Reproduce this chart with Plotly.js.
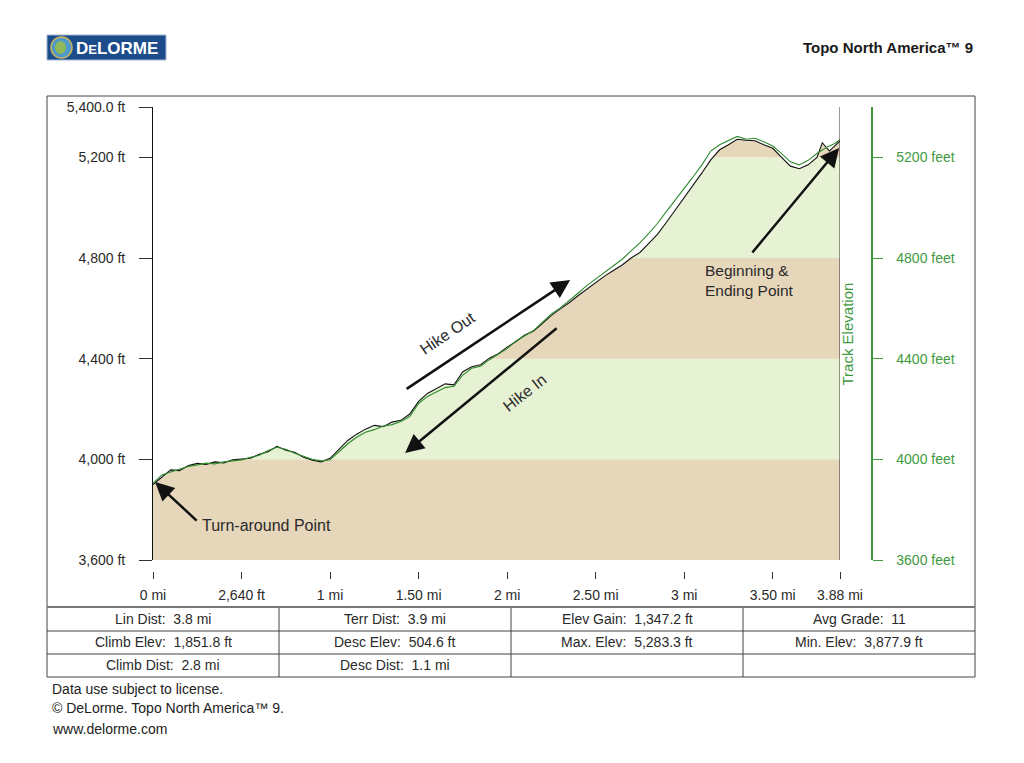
<!DOCTYPE html>
<html>
<head>
<meta charset="utf-8">
<script src="https://cdn.plot.ly/plotly-3.0.1.min.js"></script>
<style>
  html, body { margin: 0; padding: 0; background: #ffffff; }
  #chart { width: 1024px; height: 763px; }
</style>
</head>
<body>
<div id="chart"></div>
<script>
// ---------------- DATA ----------------
// Track 1 (black) : distance (mi) and elevation (ft)
const blackDist = [0.00,0.05,0.10,0.15,0.20,0.25,0.30,0.35,0.40,0.45,0.50,0.55,0.60,0.65,0.70,0.75,0.80,0.85,0.90,0.95,
  1.00,1.05,1.10,1.15,1.20,1.25,1.30,1.35,1.40,1.45,1.50,1.55,1.60,1.65,1.70,1.75,1.80,1.85,1.90,1.95,
  2.00,2.05,2.10,2.15,2.20,2.25,2.30,2.35,2.40,2.45,2.50,2.55,2.60,2.65,2.70,2.75,2.80,2.85,2.90,2.95,
  3.00,3.05,3.10,3.15,3.20,3.25,3.30,3.35,3.40,3.45,3.50,3.55,3.60,3.65,3.70,3.75,3.78,3.82,3.85,3.88];
const blackElev = [3900,3930,3958,3955,3975,3984,3980,3990,3986,3998,4002,4004,4020,4030,4052,4036,4028,4008,3996,3990,
  4004,4040,4075,4100,4120,4135,4130,4148,4155,4180,4230,4262,4280,4300,4296,4348,4368,4376,4402,4420,
  4446,4468,4494,4510,4540,4572,4598,4622,4650,4676,4700,4728,4750,4772,4800,4822,4858,4895,4942,4990,
  5040,5090,5138,5190,5230,5250,5272,5268,5266,5250,5236,5200,5165,5155,5170,5200,5258,5225,5245,5265];

// Track 2 (green)
const greenDist = [0.00,0.05,0.10,0.15,0.20,0.25,0.30,0.35,0.40,0.45,0.50,0.55,0.60,0.65,0.70,0.75,0.80,0.85,0.90,0.95,
  1.00,1.05,1.10,1.15,1.20,1.25,1.30,1.35,1.40,1.45,1.50,1.55,1.60,1.65,1.70,1.75,1.80,1.85,1.90,1.95,
  2.00,2.05,2.10,2.15,2.20,2.25,2.30,2.35,2.40,2.45,2.50,2.55,2.60,2.65,2.70,2.75,2.80,2.85,2.90,2.95,
  3.00,3.05,3.10,3.15,3.20,3.25,3.30,3.35,3.40,3.45,3.50,3.55,3.60,3.65,3.70,3.75,3.80,3.85,3.88];
const greenElev = [3905,3938,3950,3962,3972,3978,3985,3982,3990,3994,3998,4008,4016,4035,4048,4040,4024,4012,4000,3994,
  3998,4030,4062,4088,4108,4118,4132,4138,4150,4170,4222,4250,4268,4285,4290,4335,4362,4370,4396,4418,
  4440,4470,4490,4512,4545,4578,4602,4630,4660,4690,4716,4742,4768,4795,4828,4860,4898,4938,4985,5030,
  5078,5122,5170,5225,5250,5268,5283,5272,5276,5262,5245,5215,5182,5170,5188,5215,5238,5255,5270];

// Elevation colour bands (ft)
const bandEdges = [3600, 4000, 4400, 4800, 5200, 5400];

// Axis ticks
const xTickVals = [0, 0.5, 1, 1.5, 2, 2.5, 3, 3.5, 3.88];
const xTickText = ["0 mi", "2,640 ft", "1 mi", "1.50 mi", "2 mi", "2.50 mi", "3 mi", "3.50 mi", "3.88 mi"];
const yTickVals = [3600, 4000, 4400, 4800, 5200, 5400];
const yTickText = ["3,600 ft", "4,000 ft", "4,400 ft", "4,800 ft", "5,200 ft", "5,400.0 ft"];
const y2TickVals = [3600, 4000, 4400, 4800, 5200];
const y2TickText = ["3600 feet", "4000 feet", "4400 feet", "4800 feet", "5200 feet"];

// Statistics table
const statRow1 = ["Lin Dist:\u00a0 3.8 mi", "Terr Dist:\u00a0 3.9 mi", "Elev Gain:\u00a0 1,347.2 ft", "Avg Grade:\u00a0 11"];
const statRow2 = ["Climb Elev:\u00a0 1,851.8 ft", "Desc Elev:\u00a0 504.6 ft", "Max. Elev:\u00a0 5,283.3 ft", "Min. Elev:\u00a0 3,877.9 ft"];
const statRow3 = ["Climb Dist:\u00a0 2.8 mi", "Desc Dist:\u00a0 1.1 mi", "", ""];

const footerLines = ["Data use subject to license.", "© DeLorme. Topo North America™ 9.", "www.delorme.com"];

// ---------------- LAYOUT HELPERS ----------------
const FONT = "Liberation Sans, Arial, Helvetica, sans-serif";
const TXT = "#2a2a2a";
const GREEN = "#3f9a3f";
const L = 153, T = 107, W = 811, H = 506; // paper area in pixels
const px = x => (x - L) / W;
const py = y => (T + H - y) / H;

const xMax = xTickVals[xTickVals.length - 1];
const yMin = bandEdges[0], yMax = bandEdges[bandEdges.length - 1];

// ---------------- TRACES ----------------
const whiteAbove = {
  x: blackDist.concat([xMax, 0]),
  y: blackElev.concat([yMax, yMax]),
  type: "scatter", mode: "lines", fill: "toself",
  fillcolor: "#ffffff", line: {width: 0, color: "rgba(0,0,0,0)"},
  hoverinfo: "skip", showlegend: false
};
const blackTrace = {
  x: blackDist, y: blackElev, type: "scatter", mode: "lines",
  line: {color: "#111111", width: 1.1}, showlegend: false
};
const greenTrace = {
  x: greenDist, y: greenElev, type: "scatter", mode: "lines", yaxis: "y2",
  line: {color: "#2e8b2e", width: 1.1}, showlegend: false
};

// ---------------- SHAPES ----------------
const shapes = [];
const bandColors = ["#e6d6ba", "#e7f1d4"];
for (let i = 0; i < bandEdges.length - 1; i++) {
  shapes.push({type: "rect", xref: "x", yref: "y", x0: 0, x1: xMax, y0: bandEdges[i], y1: bandEdges[i + 1],
    fillcolor: bandColors[i % 2], line: {width: 0}, layer: "below"});
}
// right edge of plot
shapes.push({type: "line", xref: "x", yref: "y", x0: xMax, x1: xMax, y0: yMin, y1: yMax,
  line: {color: "#333333", width: 1}});
// outer frame and table grid
shapes.push({type: "rect", xref: "paper", yref: "paper", x0: px(47), x1: px(975), y0: py(677), y1: py(96),
  line: {color: "#444444", width: 1}});
[607, 631, 654].forEach(yy => shapes.push({type: "line", xref: "paper", yref: "paper",
  x0: px(47), x1: px(975), y0: py(yy), y1: py(yy), line: {color: yy === 607 ? "#777777" : "#444444", width: yy === 607 ? 2 : 1}}));
[279, 511, 743].forEach(xx => shapes.push({type: "line", xref: "paper", yref: "paper",
  x0: px(xx), x1: px(xx), y0: py(608), y1: py(677), line: {color: "#444444", width: 1}}));
// logo
shapes.push({type: "rect", xref: "paper", yref: "paper", x0: px(47), x1: px(166), y0: py(60), y1: py(35),
  fillcolor: "#1d4c8a", line: {color: "#9fb6d6", width: 1}});
shapes.push({type: "circle", xref: "paper", yref: "paper", x0: px(51), x1: px(72), y0: py(58), y1: py(37),
  fillcolor: "#4f9acb", line: {color: "#c9b45a", width: 1.5}});
shapes.push({type: "circle", xref: "paper", yref: "paper", x0: px(55), x1: px(66), y0: py(54), y1: py(41),
  fillcolor: "#8fb85a", line: {width: 0}});

// ---------------- ANNOTATIONS ----------------
const ann = [];
const arrowStyle = {showarrow: true, arrowhead: 2, arrowsize: 1.5, arrowwidth: 2.5, arrowcolor: "#111111",
  xref: "x", yref: "y", text: "", standoff: 0, startstandoff: 0};
ann.push(Object.assign({}, arrowStyle, {x: 0.012, y: 3910, ax: 43, ay: 40}));
ann.push(Object.assign({}, arrowStyle, {x: 2.356, y: 4713, ax: -165, ay: 110}));
ann.push(Object.assign({}, arrowStyle, {x: 1.424, y: 4025, ax: 153, ay: -126}));
ann.push(Object.assign({}, arrowStyle, {x: 3.875, y: 5237, ax: -88, ay: 106}));

const bigFont = {family: FONT, size: 16, color: TXT};
ann.push({xref: "x", yref: "y", x: 0.266, y: 3739, text: "Turn-around Point", showarrow: false,
  xanchor: "left", yanchor: "middle", font: bigFont});
ann.push({xref: "x", yref: "y", x: 1.661, y: 4502, text: "Hike Out", showarrow: false,
  textangle: -34, font: bigFont});
ann.push({xref: "x", yref: "y", x: 2.102, y: 4264, text: "Hike In", showarrow: false,
  textangle: -38, font: bigFont});
ann.push({xref: "x", yref: "y", x: 3.107, y: 4709, text: "Beginning &amp;<br>Ending Point", showarrow: false,
  xanchor: "left", yanchor: "middle", align: "left", font: {family: FONT, size: 15.5, color: TXT}});

// right axis title
ann.push({xref: "paper", yref: "paper", x: px(857), y: py(334), text: "Track Elevation", showarrow: false,
  textangle: -90, font: {family: FONT, size: 15, color: GREEN}});

// header
ann.push({xref: "paper", yref: "paper", x: px(975), y: py(47), xanchor: "right", yanchor: "middle",
  text: "<b>Topo North America™ 9</b>", showarrow: false, font: {family: FONT, size: 15, color: "#1a1a1a"}});
ann.push({xref: "paper", yref: "paper", x: px(74), y: py(48), xanchor: "left", yanchor: "middle",
  text: "<b>D<span style='font-size:13px'>E</span>LORME</b>", showarrow: false,
  font: {family: FONT, size: 17, color: "#ffffff"}});

// table text
const colCenters = [163, 395, 627, 859];
const rowCenters = [619, 642, 665];
[statRow1, statRow2, statRow3].forEach((row, r) => {
  row.forEach((txt, c) => {
    if (txt) ann.push({xref: "paper", yref: "paper", x: px(colCenters[c]), y: py(rowCenters[r]),
      xanchor: "center", yanchor: "middle", text: txt, showarrow: false,
      font: {family: FONT, size: 14, color: TXT}});
  });
});
// footer
const footerY = [689, 708, 729];
footerLines.forEach((t, i) => ann.push({xref: "paper", yref: "paper", x: px(50), y: py(footerY[i]),
  xanchor: "left", yanchor: "middle", text: t, showarrow: false, font: {family: FONT, size: 14, color: "#222222"}}));

// ---------------- LAYOUT ----------------
const layout = {
  width: 1024, height: 763,
  margin: {l: L, r: 1024 - L - W, t: T, b: 763 - T - H, pad: 0},
  paper_bgcolor: "#ffffff", plot_bgcolor: "rgba(0,0,0,0)",
  showlegend: false,
  font: {family: FONT, size: 14, color: TXT},
  xaxis: {
    domain: [0, px(840)], range: [0, xMax], anchor: "free", position: py(571),
    tickvals: xTickVals, ticktext: xTickText, ticks: "outside", ticklen: 7, tickcolor: "#333333",
    showline: false, showgrid: false, zeroline: false, ticklabelstandoff: 4,
    tickfont: {family: FONT, size: 14, color: TXT}, fixedrange: true
  },
  yaxis: {
    domain: [py(560), 1], range: [yMin, yMax],
    tickvals: yTickVals, ticktext: yTickText, ticks: "outside", ticklen: 13, tickcolor: "#333333",
    showline: true, linecolor: "#111111", linewidth: 1, showgrid: false, zeroline: false,
    ticklabelstandoff: 11, tickfont: {family: FONT, size: 14, color: TXT}, fixedrange: true
  },
  yaxis2: {
    overlaying: "y", side: "right", anchor: "free", position: px(871), range: [yMin, yMax],
    tickvals: y2TickVals, ticktext: y2TickText, ticks: "outside", ticklen: 10, tickcolor: GREEN,
    showline: true, linecolor: GREEN, linewidth: 1.5, showgrid: false, zeroline: false,
    ticklabelstandoff: 11, tickfont: {family: FONT, size: 14, color: GREEN}, fixedrange: true
  },
  shapes: shapes,
  annotations: ann
};

Plotly.newPlot("chart", [whiteAbove, blackTrace, greenTrace], layout, {displayModeBar: false, staticPlot: true});
</script>
</body>
</html>
